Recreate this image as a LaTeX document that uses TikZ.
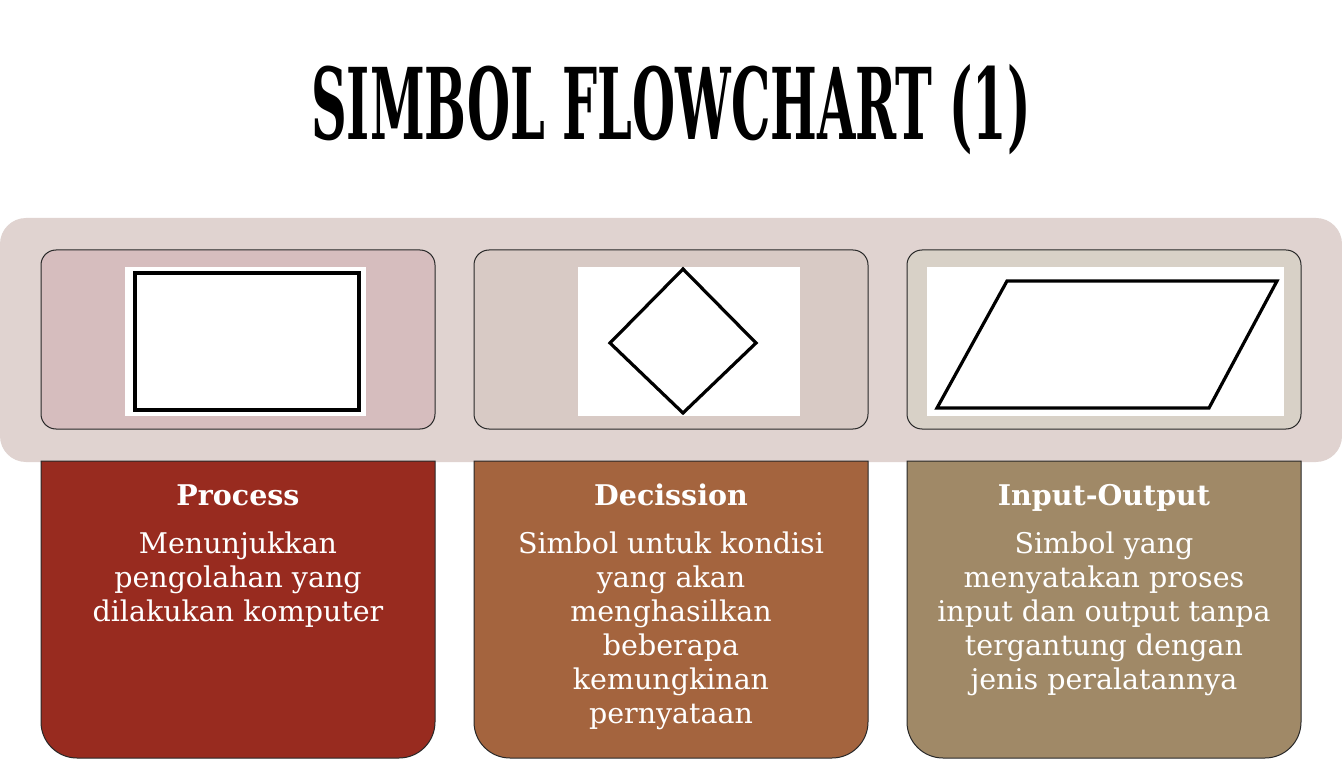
\documentclass[tikz,border=0pt]{standalone}
\usepackage{fontspec}
\setmainfont{DejaVu Serif}
\newfontfamily\titlefont{DejaVu Serif Condensed}
\usetikzlibrary{positioning}
\definecolor{band}{RGB}{224,211,208}
\definecolor{topA}{RGB}{214,189,190}
\definecolor{topB}{RGB}{216,202,197}
\definecolor{topC}{RGB}{216,209,199}
\definecolor{cardA}{RGB}{152,43,31}
\definecolor{cardB}{RGB}{164,100,62}
\definecolor{cardC}{RGB}{160,137,103}
\definecolor{edge}{RGB}{40,40,40}
\tikzset{
  topbox/.style={draw=edge, line width=1pt, rounded corners=15pt},
  pic/.style={fill=white, draw=none},
  sym/.style={draw=black, line width=4pt, line join=miter, fill=white},
  card/.style={draw=edge, line width=1pt},
  cardtext/.style={text=white, align=center, font=\fontsize{28.5}{34}\selectfont, inner sep=0pt},
  cardhead/.style={text=white, font=\bfseries\fontsize{28.5}{30}\selectfont, inner sep=0pt, anchor=base}
}
\begin{document}
\begin{tikzpicture}[x=1pt,y=-1pt]
\useasboundingbox (0,0) rectangle (1342,759);
\fill[white] (0,0) rectangle (1342,759);
% title
\node[inner sep=0pt, anchor=base] (title) at (671,140) {\scalebox{0.555}[1]{\titlefont\bfseries\fontsize{99}{99}\selectfont SIMBOL FLOWCHART (1)}};
% band
\fill[band, rounded corners=26pt] (0,218) rectangle (1342,462);
% top boxes
\draw[topbox, fill=topA] (41,250) rectangle (435,429);
\draw[topbox, fill=topB] (474,250) rectangle (868,429);
\draw[topbox, fill=topC] (907,250) rectangle (1301,429);
% pictures
\fill[pic] (125,267) rectangle (366,416);
\draw[sym] (134.5,273.5) rectangle (358.5,409.5);
\fill[pic] (578,267) rectangle (800,416);
\draw[sym, line width=3.2pt] (683,269) -- (756,343) -- (683,413) -- (610,343) -- cycle;
\fill[pic] (927,267) rectangle (1284,416);
\draw[sym, line width=3.2pt] (937,408) -- (1007,281) -- (1277,281) -- (1209,408) -- cycle;
% bottom cards
\draw[card, fill=cardA] (41,461) [rounded corners=36pt] -- (41,758) -- (435,758) [sharp corners] -- (435,461) -- cycle;
\draw[card, fill=cardB] (474,461) [rounded corners=36pt] -- (474,758) -- (868,758) [sharp corners] -- (868,461) -- cycle;
\draw[card, fill=cardC] (907,461) [rounded corners=36pt] -- (907,758) -- (1301,758) [sharp corners] -- (1301,461) -- cycle;
% headings
\node[cardhead] (h1) at (238,505) {Process};
\node[cardhead] (h2) at (671,505) {Decission};
\node[cardhead] (h3) at (1104,505) {Input-Output};
% body
\node[cardtext, anchor=north] (b1) at (238,532) {Menunjukkan\\pengolahan yang\\dilakukan komputer};
\node[cardtext, anchor=north] (b2) at (671,532) {Simbol untuk kondisi\\yang akan\\menghasilkan\\beberapa\\kemungkinan\\pernyataan};
\node[cardtext, anchor=north] (b3) at (1104,532) {Simbol yang\\menyatakan proses\\input dan output tanpa\\tergantung dengan\\jenis peralatannya};
\end{tikzpicture}
\end{document}
